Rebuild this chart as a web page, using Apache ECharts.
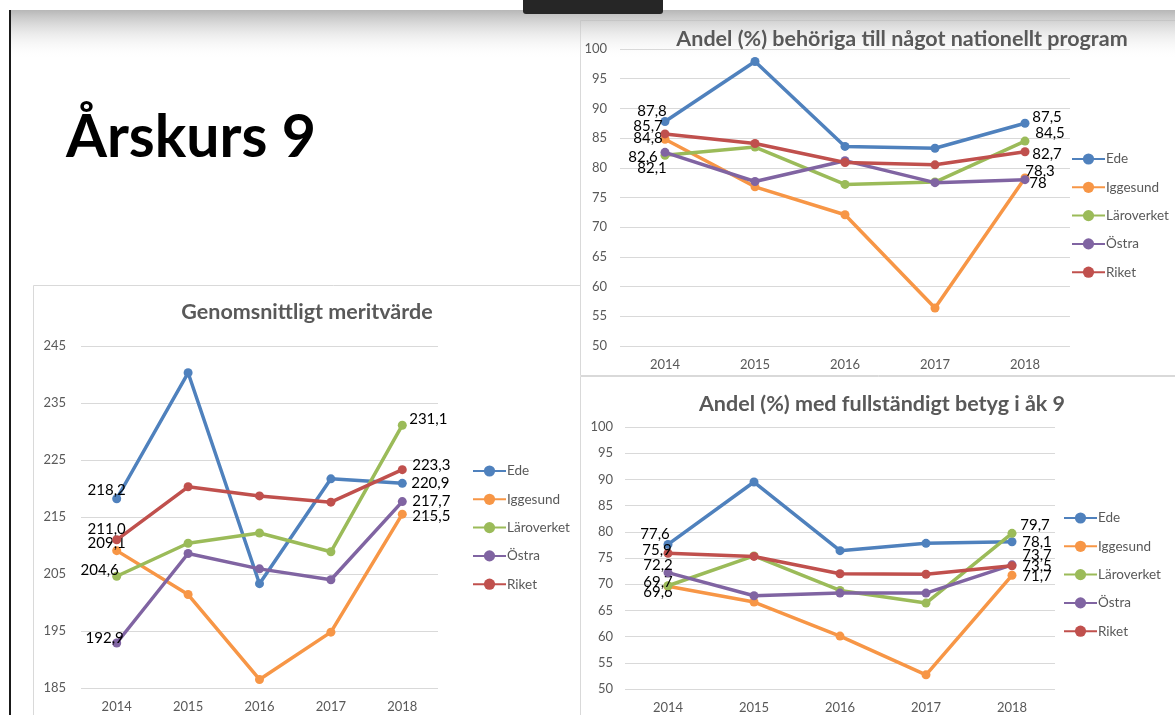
<!DOCTYPE html>
<html>
<head>
<meta charset="utf-8">
<script src="https://cdn.jsdelivr.net/npm/echarts@6/dist/echarts.min.js"></script>
<style>
html,body{margin:0;padding:0;background:#fff;}
#c{width:1175px;height:715px;}
</style>
</head>
<body>
<div id="c"></div>
<script>
// ---- data ----
const years = ['2014', '2015', '2016', '2017', '2018'];
const seriesNames = ['Ede', 'Iggesund', 'Läroverket', 'Östra', 'Riket'];
const colors = ['#4F81BD', '#F79646', '#9BBB59', '#8064A2', '#C0504D'];

const pageTitle = 'Årskurs 9';

// Andel (%) behöriga till något nationellt program
const behTitle = 'Andel (%) behöriga till något nationellt program';
const behEde        = [87.8, 97.9, 83.6, 83.3, 87.5];
const behIggesund   = [84.8, 76.8, 72.1, 56.4, 78.3];
const behLaroverket = [82.1, 83.5, 77.2, 77.6, 84.5];
const behOstra      = [82.6, 77.7, 81.2, 77.5, 78];
const behRiket      = [85.7, 84.1, 80.9, 80.5, 82.7];

// Genomsnittligt meritvärde
const meritTitle = 'Genomsnittligt meritvärde';
const meritEde        = [218.2, 240.3, 203.3, 221.7, 220.9];
const meritIggesund   = [209.1, 201.4, 186.5, 194.8, 215.5];
const meritLaroverket = [204.6, 210.4, 212.2, 208.9, 231.1];
const meritOstra      = [192.9, 208.6, 205.9, 204.0, 217.7];
const meritRiket      = [211.0, 220.3, 218.7, 217.6, 223.3];

// Andel (%) med fullständigt betyg i åk 9
const fullTitle = 'Andel (%) med fullständigt betyg i åk 9';
const fullEde        = [77.6, 89.5, 76.4, 77.8, 78.1];
const fullIggesund   = [69.6, 66.6, 60.1, 52.7, 71.7];
const fullLaroverket = [69.7, 75.4, 68.8, 66.4, 79.7];
const fullOstra      = [72.2, 67.8, 68.3, 68.3, 73.7];
const fullRiket      = [75.9, 75.3, 72.0, 71.9, 73.5];

// ---- label placement (style, per series: [first point offset], [last point offset]) ----
const behLabelOff = [
  [[-13, -10], [22, -6]],
  [[-17, -1], [15, -7]],
  [[-13, 13], [25, -8]],
  [[-22, 5], [13, 3]],
  [[-17, -8], [22, 2]]
];
const meritLabelOff = [
  [[-10, -9], [28, 0]],
  [[-10, -7], [29, 2]],
  [[-17, -6], [26, -6]],
  [[-12, -5], [29, 0]],
  [[-10, -11], [29, -5]]
];
const fullLabelOff = [
  [[-13, -10], [25, 0]],
  [[-10, 6], [25, 1]],
  [[-10, -4], [23, -8]],
  [[-10, -8], [25, -10]],
  [[-11, -3], [25, 0]]
];

const FONT = 'Lato';

function commaFmt(fixed) {
  return function (p) {
    const v = p.value;
    const s = fixed ? v.toFixed(1) : String(v);
    return s.replace('.', ',');
  };
}

function buildSeries(gridIdx, dataSets, offsets, fixed) {
  return dataSets.map((vals, i) => ({
    name: seriesNames[i],
    type: 'line',
    xAxisIndex: gridIdx,
    yAxisIndex: gridIdx,
    symbol: 'circle',
    symbolSize: 9,
    z: 2 + i,
    lineStyle: { width: 3.5, color: colors[i] },
    itemStyle: { color: colors[i] },
    emphasis: { disabled: true },
    data: vals.map((v, j) => {
      const last = j === vals.length - 1;
      const first = j === 0;
      return {
        value: v,
        label: {
          show: first || last,
          position: 'inside',
          offset: first ? offsets[i][0] : (last ? offsets[i][1] : [0, 0]),
          formatter: commaFmt(fixed),
          color: '#000',
          fontSize: 15,
          fontFamily: FONT
        }
      };
    })
  }));
}

function axisPair(gridIdx, min, max, interval, margin) {
  return {
    x: {
      type: 'category', gridIndex: gridIdx, data: years, boundaryGap: true,
      axisLine: { show: false }, axisTick: { show: false },
      axisLabel: { color: '#595959', fontSize: 13, fontFamily: FONT, margin: 12 }
    },
    y: {
      type: 'value', gridIndex: gridIdx, min: min, max: max, interval: interval,
      axisLine: { show: false }, axisTick: { show: false },
      splitLine: { lineStyle: { color: '#d9d9d9', width: 1 } },
      axisLabel: { color: '#595959', fontSize: 13, fontFamily: FONT, margin: margin }
    }
  };
}

const a0 = axisPair(0, 50, 100, 5, 13);
const a1 = axisPair(1, 185, 245, 10, 15);
const a2 = axisPair(2, 50, 100, 5, 12);

function legend(left, top) {
  return {
    orient: 'vertical', left: left, top: top,
    itemWidth: 33, itemHeight: 14, itemGap: 14.3,
    data: seriesNames,
    selectedMode: false,
    textStyle: { color: '#595959', fontSize: 13.5, fontFamily: FONT, padding: [0, 0, 0, -4] }
  };
}

const chart = echarts.init(document.getElementById('c'), null, { renderer: 'canvas' });
chart.setOption({
  animation: false,
  backgroundColor: '#fff',
  grid: [
    { left: 620, top: 49, width: 450, height: 297 },
    { left: 81, top: 346, width: 357, height: 342 },
    { left: 625, top: 427, width: 430, height: 262 }
  ],
  xAxis: [a0.x, a1.x, a2.x],
  yAxis: [a0.y, a1.y, a2.y],
  legend: [legend(1066, 147), legend(467, 459), legend(1058, 506)],
  series: [].concat(
    buildSeries(0, [behEde, behIggesund, behLaroverket, behOstra, behRiket], behLabelOff, false),
    buildSeries(1, [meritEde, meritIggesund, meritLaroverket, meritOstra, meritRiket], meritLabelOff, true),
    buildSeries(2, [fullEde, fullIggesund, fullLaroverket, fullOstra, fullRiket], fullLabelOff, false)
  ),
  graphic: [
    // chart frames
    { type: 'rect', z: -10, shape: { x: 33.5, y: 285.5, width: 600, height: 440 }, style: { fill: '#fff', stroke: '#d9d9d9', lineWidth: 1 } },
    { type: 'rect', z: -9, shape: { x: 580.5, y: 20.5, width: 600, height: 355 }, style: { fill: '#fff', stroke: '#d9d9d9', lineWidth: 1 } },
    { type: 'rect', z: -9, shape: { x: 580.5, y: 376.5, width: 600, height: 345 }, style: { fill: '#fff', stroke: '#d9d9d9', lineWidth: 1 } },
    // top shadow band
    { type: 'rect', z: -5, shape: { x: 11, y: 10, width: 1164, height: 50 },
      style: { fill: new echarts.graphic.LinearGradient(0, 0, 0, 1, [
        { offset: 0, color: 'rgba(170,170,170,0.85)' },
        { offset: 1, color: 'rgba(255,255,255,0)' }
      ]) } },
    { type: 'rect', z: -4, shape: { x: 0, y: 0, width: 1175, height: 10 }, style: { fill: '#fff' } },
    { type: 'rect', z: -3, shape: { x: 523, y: 0, width: 140, height: 14, r: [0, 0, 3, 3] }, style: { fill: '#262626' } },
    { type: 'rect', z: -3, shape: { x: 9, y: 10, width: 2, height: 705 }, style: { fill: '#1a1a1a' } },
    // texts
    { type: 'text', z: 20, style: { text: pageTitle, x: 66, y: 138, fill: '#000', font: 'bold 59px Lato', textVerticalAlign: 'middle' } },
    { type: 'text', z: 20, style: { text: behTitle, x: 902, y: 39, fill: '#595959', font: 'bold 21.5px Lato', textAlign: 'center', textVerticalAlign: 'middle' } },
    { type: 'text', z: 20, style: { text: meritTitle, x: 307, y: 312, fill: '#595959', font: 'bold 21.5px Lato', textAlign: 'center', textVerticalAlign: 'middle' } },
    { type: 'text', z: 20, style: { text: fullTitle, x: 882, y: 404, fill: '#595959', font: 'bold 21.5px Lato', textAlign: 'center', textVerticalAlign: 'middle' } }
  ]
});
</script>
</body>
</html>
